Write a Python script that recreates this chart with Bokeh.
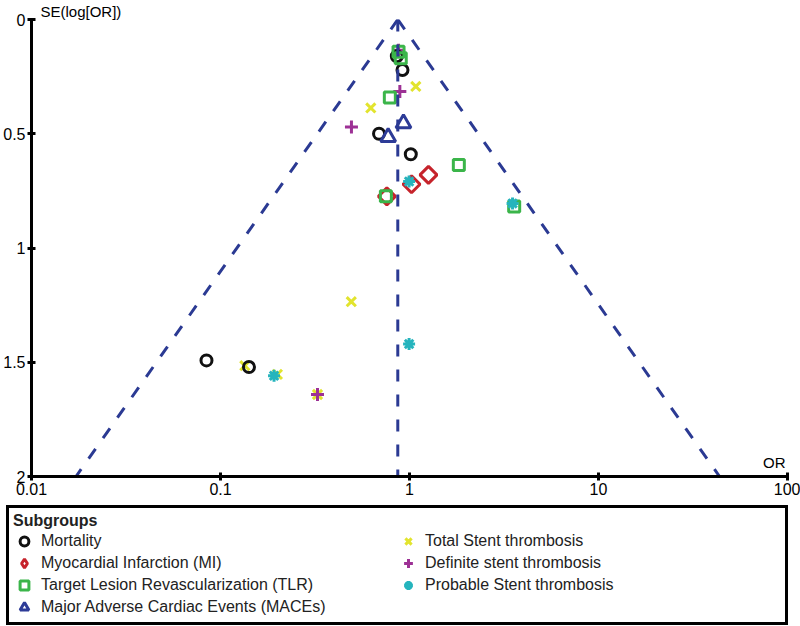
import math
from bokeh.plotting import figure
from bokeh.models import Range1d, FixedTicker, Legend, LegendItem, ColumnDataSource
from bokeh.embed import file_html
from bokeh.resources import INLINE

# ---------------- data ----------------
mortality_or = [0.857, 0.918, 0.690, 1.016, 0.0843, 0.1415]
mortality_se = [0.161, 0.221, 0.500, 0.590, 1.492, 1.521]

mi_or = [1.26, 1.025, 0.759]
mi_se = [0.680, 0.721, 0.774]

tlr_or = [0.875, 0.899, 0.787, 1.824, 0.750, 3.58]
tlr_se = [0.141, 0.170, 0.341, 0.637, 0.774, 0.818]

mace_or = [0.929, 0.771]
mace_se = [0.455, 0.515]

tst_or = [1.08, 0.624, 0.492, 0.1345, 0.200, 0.326]
tst_se = [0.293, 0.387, 1.235, 1.515, 1.553, 1.641]

dst_or = [0.875, 0.889, 0.493, 0.326]
dst_se = [0.135, 0.315, 0.471, 1.641]

pst_or = [0.995, 3.51, 0.995, 0.192]
pst_se = [0.709, 0.805, 1.420, 1.559]

pooled_or = 0.867
funnel_se = [0.0, 2.0]
z_value = 1.96

x_ticks = [0.01, 0.1, 1, 10, 100]
x_tick_labels = ["0.01", "0.1", "1", "10", "100"]
y_ticks = [0, 0.5, 1, 1.5, 2]
y_tick_labels = ["0", "0.5", "1", "1.5", "2"]

legend_labels = [
    "Mortality",
    "Myocardial Infarction (MI)",
    "Target Lesion Revascularization (TLR)",
    "Major Adverse Cardiac Events (MACEs)",
    "Total Stent thrombosis",
    "Definite stent thrombosis",
    "Probable Stent thrombosis",
]

FONT = "Liberation Sans"

# drawing order follows the overlaps seen in the reference
series_data = {
    "Total Stent thrombosis": (tst_or, tst_se),
    "Definite stent thrombosis": (dst_or, dst_se),
    "Mortality": (mortality_or, mortality_se),
    "Myocardial Infarction (MI)": (mi_or, mi_se),
    "Target Lesion Revascularization (TLR)": (tlr_or, tlr_se),
    "Major Adverse Cardiac Events (MACEs)": (mace_or, mace_se),
    "Probable Stent thrombosis": (pst_or, pst_se),
}
styles = {
    "Total Stent thrombosis": dict(marker="x", size=13, line_color="#e2e42e", line_width=3),
    "Definite stent thrombosis": dict(marker="cross", size=13, line_color="#9d3195", line_width=3),
    "Mortality": dict(marker="circle", size=11, line_color="#111111", fill_color=None, line_width=3),
    "Myocardial Infarction (MI)": dict(marker="square", angle=math.pi / 4, size=12,
                                       line_color="#c6232b", fill_color=None, line_width=3),
    "Target Lesion Revascularization (TLR)": dict(marker="square", size=11, line_color="#3bb54a",
                                                  fill_color=None, line_width=3),
    "Major Adverse Cardiac Events (MACEs)": dict(marker="triangle", size=15, line_color="#2d3b97",
                                                 fill_color=None, line_width=3),
    "Probable Stent thrombosis": dict(marker="asterisk", size=12, line_color="#25b4bd", line_width=3),
}
# the legend swatch ignores marker rotation, so the MI swatch uses the diamond marker
legend_styles = dict(styles)
legend_styles["Myocardial Infarction (MI)"] = dict(marker="diamond", size=12, line_color="#c6232b",
                                                   fill_color=None, line_width=3)

sources = {k: ColumnDataSource(dict(x=v[0], y=v[1])) for k, v in series_data.items()}

# ---------------- main chart ----------------
p = figure(width=800, height=505, x_axis_type="log",
           x_range=Range1d(x_ticks[0], x_ticks[-1]), y_range=Range1d(y_ticks[-1], y_ticks[0]),
           output_backend="svg", toolbar_location=None,
           min_border_left=31, min_border_right=13,
           min_border_top=16, min_border_bottom=29,
           title="SE(log[OR])")
p.title.align = "left"
p.title.offset = 9
p.title.standoff = 0
p.title.text_font = FONT
p.title.text_font_size = "15px"
p.title.text_font_style = "normal"
p.title.text_color = "black"

p.xgrid.visible = False
p.ygrid.visible = False
p.outline_line_color = None
p.background_fill_color = "white"
p.border_fill_color = "white"

for ax, ticks, labels in ((p.xaxis[0], x_ticks, x_tick_labels), (p.yaxis[0], y_ticks, y_tick_labels)):
    ax.ticker = FixedTicker(ticks=ticks, minor_ticks=[])
    ax.major_label_overrides = {t: l for t, l in zip(ticks, labels)}
    ax.axis_line_width = 3
    ax.axis_line_color = "black"
    ax.major_tick_line_width = 3
    ax.major_tick_line_color = "black"
    ax.major_tick_in = 4
    ax.major_tick_out = 4
    ax.minor_tick_line_color = None
    ax.major_label_text_font = FONT
    ax.major_label_text_font_size = "16px"
    ax.major_label_text_color = "black"
    ax.major_label_standoff = 2

for name in series_data:
    p.scatter(x="x", y="y", source=sources[name], **styles[name])

# funnel (pseudo 95% confidence limits around the pooled OR)
lo = [10 ** (math.log10(pooled_or) - z_value * s / math.log(10)) for s in funnel_se]
hi = [10 ** (math.log10(pooled_or) + z_value * s / math.log(10)) for s in funnel_se]
dash_color = "#2b3a93"
p.line(lo, funnel_se, line_color=dash_color, line_width=3, line_dash="12 13")
p.line(hi, funnel_se, line_color=dash_color, line_width=3, line_dash="12 13")
p.line([pooled_or, pooled_or], funnel_se, line_color=dash_color, line_width=3, line_dash="12 13")

# x axis name, above the axis at its right end
p.text(x=[x_ticks[-1]], y=[y_ticks[-1]], text=["OR"], x_offset=-2, y_offset=-6,
       text_font={"value": FONT}, text_font_size="15px", text_color="black",
       text_align="right", text_baseline="bottom")

# ---------------- legend panel ----------------
# same sources, but this panel's ranges hold none of the points: only the legend is visible
lp = figure(width=800, height=121, x_range=Range1d(-2, -1), y_range=Range1d(-2, -1),
            x_axis_location=None, y_axis_location=None, min_border=0,
            output_backend="svg", toolbar_location=None)
lp.xgrid.visible = False
lp.ygrid.visible = False
lp.outline_line_color = None
lp.background_fill_color = "white"
lp.border_fill_color = "white"

leg_renderers = {name: lp.scatter(x="x", y="y", source=sources[name], **legend_styles[name])
                 for name in series_data}
items = [LegendItem(label=l, renderers=[leg_renderers[l]]) for l in legend_labels]
legend = Legend(items=items, location=(6, 1), ncols=2, orientation="vertical",
                title="Subgroups", title_text_font=FONT, title_text_font_size="16px",
                title_text_font_style="bold", title_text_color="#222222", title_standoff=0,
                glyph_width=22, glyph_height=22, spacing=0, padding=4, margin=0,
                label_width=356, label_standoff=6, label_height=22,
                label_text_font=FONT, label_text_font_size="16px", label_text_color="#222222",
                border_line_color="black", border_line_width=3, border_line_alpha=1.0,
                background_fill_color="white", background_fill_alpha=1.0)
lp.add_layout(legend)

open("out.html", "w").write(file_html([p, lp], INLINE))
